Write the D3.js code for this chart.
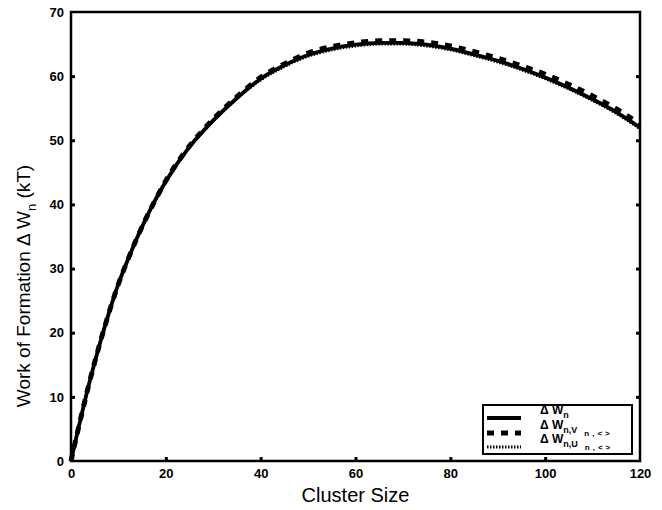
<!DOCTYPE html>
<html>
<head>
<meta charset="utf-8">
<script src="https://cdn.jsdelivr.net/npm/d3@7"></script>
<style>
  html, body { margin: 0; padding: 0; background: #fff; }
  svg { display: block; }
</style>
</head>
<body>
<svg id="chart" width="662" height="510"></svg>
<script>
// ---- data ----
const clusterSize = [0, 1, 2, 3, 4, 5, 6, 8, 10, 12, 14, 16, 18, 20, 25, 30, 35, 40, 45, 50, 55, 60, 65, 70, 75, 80, 85, 90, 95, 100, 105, 110, 115, 120];
const workN  = [0, 3.3, 6.5, 9.6, 12.6, 15.4, 18.1, 23.1, 27.6, 31.4, 34.9, 38.1, 41.0, 43.6, 49.0, 53.1, 56.6, 59.6, 61.7, 63.3, 64.3, 64.9, 65.2, 65.2, 64.9, 64.3, 63.4, 62.4, 61.2, 59.8, 58.2, 56.4, 54.4, 52.0];
const workNV = [0, 3.3, 6.5, 9.6, 12.6, 15.4, 18.1, 23.1, 27.6, 31.4, 34.9, 38.1, 41.0, 43.7, 49.1, 53.3, 56.8, 59.8, 61.9, 63.6, 64.6, 65.2, 65.5, 65.5, 65.3, 64.7, 63.8, 62.8, 61.6, 60.3, 58.7, 56.9, 54.9, 52.5];
const workNU = [0, 3.3, 6.5, 9.6, 12.6, 15.4, 18.1, 23.1, 27.6, 31.4, 34.9, 38.1, 41.0, 43.5, 48.9, 53.0, 56.5, 59.4, 61.5, 63.1, 64.1, 64.7, 65.0, 65.0, 64.7, 64.1, 63.2, 62.2, 61.0, 59.6, 58.0, 56.2, 54.2, 51.8];
const xTicks = [0, 20, 40, 60, 80, 100, 120];
const yTicks = [0, 10, 20, 30, 40, 50, 60, 70];

const svg = d3.select("#chart");
const L = 71, R = 640, T = 12, B = 461;
const x = d3.scaleLinear().domain([0, 120]).range([L, R]);
const y = d3.scaleLinear().domain([0, 70]).range([B, T]);

// axes (inward ticks)
const tickFont = "bold 13px Arial, 'Liberation Sans', sans-serif";
const xAxis = svg.append("g").attr("transform", `translate(0,${B})`)
  .call(d3.axisBottom(x).tickValues(xTicks).tickSize(-4).tickPadding(8).tickFormat(d3.format("d")));
const yAxis = svg.append("g").attr("transform", `translate(${L},0)`)
  .call(d3.axisLeft(y).tickValues(yTicks).tickSize(-4).tickPadding(7).tickFormat(d3.format("d")));
const yAxisR = svg.append("g").attr("transform", `translate(${R},0)`)
  .call(d3.axisRight(y).tickValues(yTicks).tickSize(-4).tickFormat(""));
[xAxis, yAxis, yAxisR].forEach(g => {
  g.select(".domain").remove();
  g.selectAll(".tick line").attr("stroke", "#000").attr("stroke-width", 3);
  g.selectAll("text").style("font", tickFont).attr("fill", "#000");
});
xAxis.selectAll(".tick").filter(d => d === 0 || d === 120).select("line").remove();
yAxis.selectAll(".tick").filter(d => d === 0 || d === 70).select("line").remove();
yAxisR.selectAll(".tick").filter(d => d === 0 || d === 70).select("line").remove();

// frame
svg.append("rect").attr("x", L).attr("y", T).attr("width", R - L).attr("height", B - T)
  .attr("fill", "none").attr("stroke", "#000").attr("stroke-width", 2.5);

// lines
const mk = arr => d3.line().x((d, i) => x(clusterSize[i])).y(d => y(d)).curve(d3.curveMonotoneX)(arr);
svg.append("path").attr("d", mk(workNU)).attr("fill", "none").attr("stroke", "#000")
  .attr("stroke-width", 3).attr("stroke-dasharray", "1.5,1.5");
svg.append("path").attr("d", mk(workN)).attr("fill", "none").attr("stroke", "#000")
  .attr("stroke-width", 3.8);
svg.append("path").attr("d", mk(workNV)).attr("fill", "none").attr("stroke", "#000")
  .attr("stroke-width", 5).attr("stroke-dasharray", "7,7");

// axis titles
const titleFont = "20px Arial, 'Liberation Sans', sans-serif";
svg.append("text").attr("x", (L + R) / 2).attr("y", 502).attr("text-anchor", "middle")
  .style("font", titleFont).text("Cluster Size");
const yt = svg.append("text").attr("transform", `translate(30,286) rotate(-90)`)
  .attr("text-anchor", "middle").style("font", "19px Arial, 'Liberation Sans', sans-serif");
yt.append("tspan").text("Work of Formation Δ W");
yt.append("tspan").attr("dy", 6).style("font-size", "13px").text("n");
yt.append("tspan").attr("dy", -6).text(" (kT)");

// legend
const lg = svg.append("g");
const lx0 = 483, lx1 = 632, ly0 = 405, ly1 = 454;
lg.append("rect").attr("x", lx0).attr("y", ly0).attr("width", lx1 - lx0).attr("height", ly1 - ly0)
  .attr("fill", "#fff").attr("stroke", "#000").attr("stroke-width", 2);
const rows = [
  { y: 418, dash: null, w: 3.8, sub: "n", sub2: null },
  { y: 433, dash: "7,7", w: 5, sub: "n,V", sub2: "n,<>" },
  { y: 447, dash: "1.5,1.5", w: 3, sub: "n,U", sub2: "n,<>" }
];
const legFont = "bold 12px Arial, 'Liberation Sans', sans-serif";
rows.forEach(r => {
  lg.append("line").attr("x1", 487).attr("x2", 521).attr("y1", r.y).attr("y2", r.y)
    .attr("stroke", "#000").attr("stroke-width", r.w).attr("stroke-dasharray", r.dash);
  const t = lg.append("text").attr("x", 540).attr("y", r.y - 4).style("font", legFont);
  t.append("tspan").text("Δ W");
  t.append("tspan").attr("dy", 4).style("font-size", "9px").text(r.sub);
  if (r.sub2) t.append("tspan").attr("dy", 3).attr("dx", 7).style("font-size", "8px")
    .style("letter-spacing", "3px").text(r.sub2);
});
</script>
</body>
</html>
